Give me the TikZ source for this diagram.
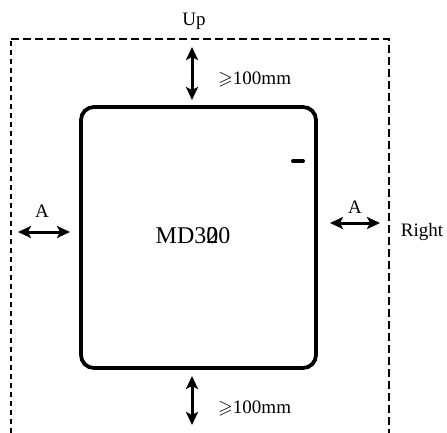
\documentclass[tikz,border=0pt]{standalone}
\usepackage{amssymb}
\usepackage{fontspec}
\setmainfont{Liberation Serif}
\usetikzlibrary{arrows.meta, positioning}
\tikzset{
    gap/.style={line width=3pt, {Stealth[length=13pt,width=12pt,inset=3pt]}-{Stealth[length=13pt,width=12pt,inset=3pt]}}, % clearance arrows
    lbl/.style={font=\fontsize{19}{19}\selectfont, inner sep=0pt, anchor=base}, % small labels
    border/.style={line width=2.6pt, dash pattern=on 8pt off 4pt}, % free space outline
    drive/.style={draw, line width=3.8pt, rounded corners=13pt, minimum width=235pt, minimum height=261pt},
}

\begin{document}
\begin{tikzpicture}[x=1pt, y=-1pt]
    \useasboundingbox (0,0) rectangle (447,433);

    % free space
    \draw[border] (11,39) -- (389,39) -- (389,433);
    \draw[border, line width=2.2pt, dash pattern=on 5pt off 4pt] (11,433) -- (11,39);

    % drive
    \node[drive] (drv) at (198.5,237.5) {};
    \node[font=\fontsize{24}{24}\selectfont, inner sep=0pt, anchor=base] (model) at (193,243) {MD3\rlap{2}00};
    \draw[line width=4pt, line cap=round] (293,161) -- (303,161); % mark

    % end points
    \coordinate (up1) at (192,47);
    \coordinate (up2) at (192,100);
    \coordinate (dn1) at (192,376);
    \coordinate (dn2) at (192,425);
    \coordinate (lf1) at (18,232);
    \coordinate (lf2) at (70,232);
    \coordinate (rt1) at (330,223);
    \coordinate (rt2) at (380,223);

    % clearances
    \draw[gap] (up1) -- (up2);
    \draw[gap] (dn1) -- (dn2);
    \draw[gap] (lf1) -- (lf2);
    \draw[gap] (rt1) -- (rt2);

    % labels
    \node[lbl] (up) at (194,26) {Up};
    \node[lbl] (right) at (422,236) {Right};
    \node[lbl, anchor=base west] (topgap) at (218,85) {$\geqslant$100mm};
    \node[lbl, anchor=base west] (botgap) at (218,413) {$\geqslant$100mm};
    \node[lbl] (lfa) at (42,217) {A};
    \node[lbl] (rta) at (355,213) {A};

\end{tikzpicture}
\end{document}
